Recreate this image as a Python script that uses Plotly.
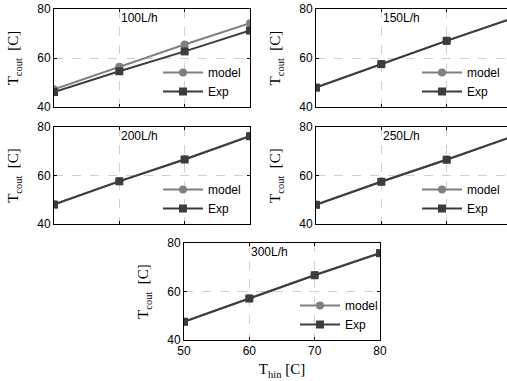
import plotly.graph_objects as go

x_vals = [50, 60, 70, 80]
flows = ["100L/h", "150L/h", "200L/h", "250L/h", "300L/h"]
model = [
    [47.2, 56.4, 65.5, 74.2],
    [48.0, 57.6, 67.1, 76.2],
    [48.1, 57.7, 66.7, 76.3],
    [48.0, 57.5, 66.6, 76.1],
    [47.6, 57.2, 66.8, 75.9],
]
exp = [
    [46.1, 54.6, 62.7, 71.2],
    [47.9, 57.5, 67.0, 76.1],
    [48.0, 57.6, 66.6, 76.2],
    [47.9, 57.4, 66.5, 76.0],
    [47.5, 57.1, 66.7, 75.8],
]

W, H = 507, 381
# panel boxes in pixels: left, right, top, bottom
boxes = [
    (54, 250, 9, 107),
    (316, 507, 9, 107),
    (54, 250, 127, 224),
    (316, 507, 127, 224),
    (184, 380, 243, 340),
]
legend_right = [246, 505, 246, 505, 383]
xranges = [[50, 80], [50, 50 + 30 * (507 - 316) / 196], [50, 80],
           [50, 50 + 30 * (507 - 316) / 196], [50, 80]]

MODEL_C = "#808080"
EXP_C = "#3c3c3c"

fig = go.Figure()
layout = dict(width=W, height=H, margin=dict(l=0, r=0, t=0, b=0),
              paper_bgcolor="white", plot_bgcolor="white",
              font=dict(family="Liberation Sans, Arial", size=12, color="black"),
              annotations=[])

for i in range(5):
    l, r, t, b = boxes[i]
    ax = "" if i == 0 else str(i + 1)
    leg = "legend" if i == 0 else "legend" + str(i + 1)
    fig.add_trace(go.Scatter(x=x_vals, y=model[i], mode="lines+markers", name="model",
                             line=dict(color=MODEL_C, width=2),
                             marker=dict(symbol="circle", size=8, color=MODEL_C),
                             xaxis="x" + ax, yaxis="y" + ax, legend=leg))
    fig.add_trace(go.Scatter(x=x_vals, y=exp[i], mode="lines+markers", name="Exp",
                             line=dict(color=EXP_C, width=2),
                             marker=dict(symbol="square", size=8, color=EXP_C),
                             xaxis="x" + ax, yaxis="y" + ax, legend=leg))
    full = (r - l) >= 196
    layout["xaxis" + ax] = dict(
        domain=[l / W, r / W], range=xranges[i], anchor="y" + ax,
        tickvals=[50, 60, 70, 80], showticklabels=(i == 4),
        ticks="inside", ticklen=3, tickcolor="black",
        showline=True, linecolor="black", linewidth=1, mirror="ticks",
        showgrid=True, gridcolor="#d0d0d0", griddash="dash", gridwidth=1,
        zeroline=False, tickfont=dict(size=12), automargin=False,
    )
    layout["yaxis" + ax] = dict(
        domain=[1 - b / H, 1 - t / H], range=[40, 80], anchor="x" + ax,
        tickvals=[40, 60, 80], ticks="inside", ticklen=3, tickcolor="black",
        showline=True, linecolor="black", linewidth=1,
        mirror=("ticks" if full else False),
        showgrid=True, gridcolor="#d0d0d0", griddash="dash", gridwidth=1,
        zeroline=False, tickfont=dict(size=12), automargin=False,
        title=dict(text="T<sub>cout</sub>  [C]",
                   font=dict(family="Liberation Serif, Times New Roman", size=15),
                   standoff=14),
    )
    layout[leg] = dict(
        x=min(legend_right[i], W) / W, xanchor="right",
        y=1 - (b - 1) / H, yanchor="bottom",
        bgcolor="rgba(0,0,0,0)", borderwidth=0,
        font=dict(size=12), itemwidth=40, tracegroupgap=0,
        yref="paper", xref="paper",
    )
    layout["annotations"].append(dict(
        x=60, y=0.91, xref="x" + ax, yref=("y" + ax) + " domain",
        text=flows[i], showarrow=False, xanchor="left", yanchor="middle",
        font=dict(size=12),
    ))

layout["xaxis5"]["title"] = dict(text="T<sub>hin</sub> [C]",
                                 font=dict(family="Liberation Serif, Times New Roman", size=15),
                                 standoff=6)
fig.update_layout(**layout)
fig.write_html("out.html", config={"displayModeBar": False},
               post_script="document.body.style.margin='0';document.body.style.overflow='hidden';")
